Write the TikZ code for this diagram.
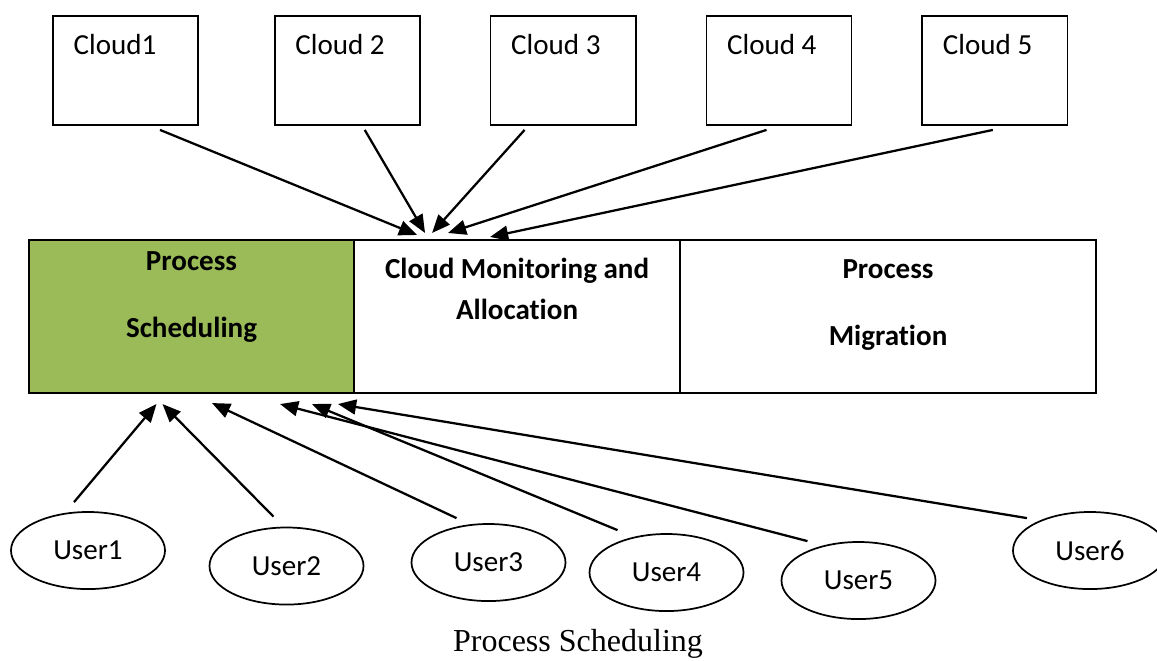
\documentclass[tikz,border=0pt]{standalone}
\usepackage{fontspec}
\setmainfont{Carlito}[Ligatures=NoCommon]
\newfontfamily\capfont{Liberation Serif}
\usetikzlibrary{positioning,arrows.meta,shapes.geometric,calc}
\definecolor{schedgreen}{RGB}{155,187,89}

\begin{document}
\begin{tikzpicture}[x=0.375pt, y=-0.375pt, >={Triangle[length=6.8pt,width=5.6pt]}, font=\fontsize{10.9}{13}\selectfont,
  cloudbox/.style={draw,line width=0.65pt,minimum width=54.4pt,minimum height=40.9pt,inner sep=0pt},
  blk/.style={draw,line width=0.8pt,minimum height=57.4pt,inner sep=0pt,outer sep=0pt},
  user/.style={draw,ellipse,line width=0.65pt,minimum width=57.75pt,minimum height=28.9pt,inner sep=0pt},
  txt/.style={anchor=base west,inner sep=0pt}, lbl/.style={anchor=base,font=\fontsize{10.9}{13}\selectfont\bfseries},
  link/.style={->,line width=0.85pt}]
  \useasboundingbox (0,0) rectangle (1157,660);
  % clouds
  \node[cloudbox](c1) at (125.5,70.5){};
  \node[cloudbox,right=28.1pt of c1](c2){};
  \node[cloudbox,right=25.9pt of c2](c3){};
  \node[cloudbox,right=25.9pt of c3](c4){};
  \node[cloudbox,right=25.9pt of c4](c5){};
  \node[txt](t1) at ($(c1.north west)+(21,39)$){Cloud1};
  \node[txt](t2) at ($(c2.north west)+(21,39)$){Cloud 2};
  \node[txt](t3) at ($(c3.north west)+(21,39)$){Cloud 3};
  \node[txt](t4) at ($(c4.north west)+(21,39)$){Cloud 4};
  \node[txt](t5) at ($(c5.north west)+(21,39)$){Cloud 5};
  % middle blocks
  \node[blk,fill=schedgreen,minimum width=121.9pt](sched) at (191.5,316.5){};
  \node[blk,minimum width=122.25pt,right=0pt of sched](mon){};
  \node[blk,minimum width=156pt,right=0pt of mon](mig){};
  \node[lbl] at ($(sched.north)+(0,31)$){Process};
  \node[lbl] at ($(sched.north)+(0,98)$){Scheduling};
  \node[lbl] at ($(mon.north)+(0,39)$){Cloud Monitoring and};
  \node[lbl] at ($(mon.north)+(0,80)$){Allocation};
  \node[lbl] at ($(mig.north)+(0,39)$){Process};
  \node[lbl] at ($(mig.north)+(0,106)$){Migration};
  % users
  \node[user](u1) at (88,550.5){User1};
  \node[user](u2) at (286.5,566){User2};
  \node[user](u3) at (488.5,562.5){User3};
  \node[user](u4) at (666.5,572.5){User4};
  \node[user](u5) at (858.5,580.5){User5};
  \node[user](u6) at (1090,550.5){User6};
  % arrows
  \draw[link]([shift={(34.5,4)}]c1.south)--([shift={(63,-5)}]mon.north west);
  \draw[link]([shift={(17.5,4)}]c2.south)--([shift={(71,-7)}]mon.north west);
  \draw[link]([shift={(-38.5,4)}]c3.south)--([shift={(78,-7)}]mon.north west);
  \draw[link]([shift={(-12.5,4)}]c4.south)--([shift={(94,-7)}]mon.north west);
  \draw[link]([shift={(-2,4)}]c5.south)--([shift={(136,-3)}]mon.north west);
  \draw[link]([shift={(-14,-9)}]u1.north)--([shift={(-35,11)}]sched.south);
  \draw[link]([shift={(-13,-10)}]u2.north)--([shift={(-29,11)}]sched.south);
  \draw[link]([shift={(-32,-5)}]u3.north)--([shift={(20.5,10)}]sched.south);
  \draw[link]([shift={(-49,-3)}]u4.north)--([shift={(120.5,11)}]sched.south);
  \draw[link]([shift={(-51,0)}]u5.north)--([shift={(88.5,11)}]sched.south);
  \draw[link]([shift={(-63,7)}]u6.north)--([shift={(146.5,11)}]sched.south);
  \node[anchor=base,font=\capfont\fontsize{12}{14}\selectfont](cap) at (578,651){Process Scheduling};
\end{tikzpicture}
\end{document}
